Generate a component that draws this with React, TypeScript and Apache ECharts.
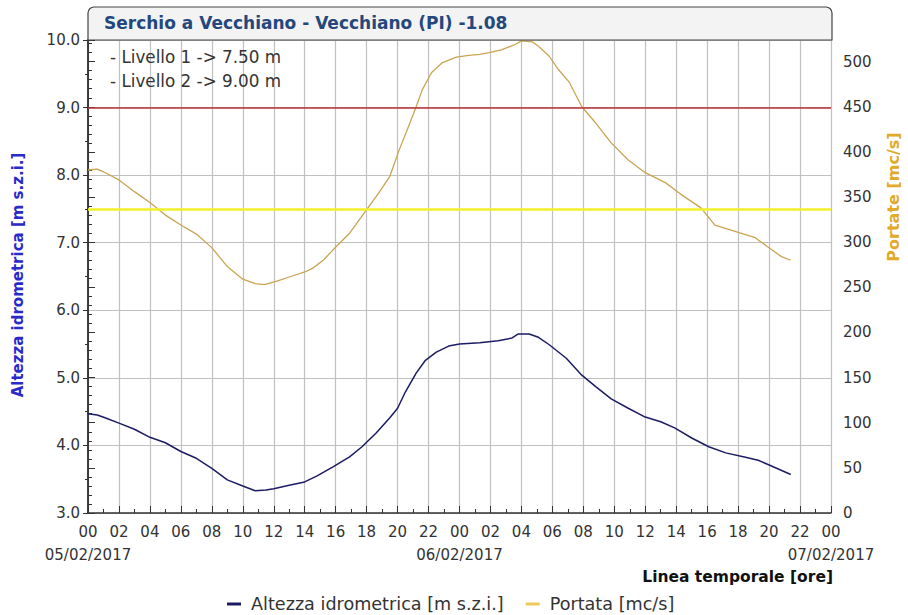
import React, { useEffect, useRef } from "react";
import * as echarts from "echarts";

// Hours since 00:00 of 05/02/2017
const hoursLevel = [0, 0.6, 1.1, 2, 3, 4, 5, 6, 7, 8, 9, 10, 10.8, 11.5, 12, 13, 14, 14.8, 15.8, 16.9, 17.7, 18.6, 19.5, 20, 20.5, 21.2, 21.8, 22.5, 23.3, 24, 25.3, 26.5, 27.4, 27.8, 28.5, 29.1, 29.8, 30.9, 31.9, 32.8, 33.8, 34.9, 36, 37, 37.9, 39, 40.1, 41.2, 42.4, 43.3, 44.3, 45.4];
const level = [4.47, 4.45, 4.41, 4.33, 4.24, 4.12, 4.04, 3.91, 3.81, 3.66, 3.49, 3.4, 3.33, 3.34, 3.36, 3.41, 3.46, 3.55, 3.68, 3.83, 3.98, 4.18, 4.41, 4.55, 4.79, 5.07, 5.26, 5.38, 5.47, 5.5, 5.52, 5.55, 5.59, 5.65, 5.65, 5.6, 5.49, 5.29, 5.04, 4.87, 4.69, 4.55, 4.42, 4.35, 4.26, 4.11, 3.98, 3.89, 3.83, 3.78, 3.68, 3.57];

const hoursFlow = [0, 0.6, 1, 2, 3, 4, 5, 6, 7, 8, 9, 10, 10.8, 11.4, 12.2, 13.1, 14, 14.5, 15.2, 15.8, 16.9, 18, 18.8, 19.5, 20.1, 20.7, 21.2, 21.6, 22.2, 22.9, 23.8, 24.6, 25.3, 25.9, 26.7, 27.6, 28, 28.7, 29.1, 29.8, 30.4, 31.1, 31.9, 32.8, 33.8, 34.9, 36, 37.3, 38.3, 39.6, 40.5, 41.8, 43.1, 43.9, 44.8, 45.4];
const flow = [380, 381, 378, 369, 356, 344, 330, 319, 309, 294, 273, 259, 254, 253, 257, 262, 267, 271, 280, 291, 310, 336, 355, 373, 402, 428, 450, 469, 488, 499, 505, 507, 508, 510, 513, 519, 523, 522, 517, 506, 491, 477, 450, 432, 410, 391, 377, 366, 353, 338, 319, 312, 305, 295, 284, 280];

const thresholdNames = ["Livello 1", "Livello 2"];
const thresholds = [7.5, 9.0];
const dateLabels: Record<number, string> = { 0: "05/02/2017", 24: "06/02/2017", 48: "07/02/2017" };

const FONT = "'DejaVu Sans', sans-serif";

export default function App() {
  const ref = useRef<HTMLDivElement>(null);
  useEffect(() => {
    if (!ref.current) return;
    const chart = echarts.init(ref.current, undefined, { renderer: "svg" });
    const option: any = {
      animation: false,
      backgroundColor: "#ffffff",
      textStyle: { fontFamily: FONT },
      grid: { left: 88, right: 77, top: 40, bottom: 102 },
      legend: {
        top: 590,
        left: 222,
        icon: "rect",
        itemWidth: 14,
        itemHeight: 3,
        itemGap: 22,
        textStyle: { fontSize: 17.6, color: "#333", fontFamily: FONT, padding: [0, 0, 0, 5] },
        data: ["Altezza idrometrica [m s.z.i.]", "Portata [mc/s]"],
      },
      xAxis: [
        {
          type: "value",
          min: 0,
          max: 48,
          interval: 2,
          axisLine: { show: true, lineStyle: { color: "#333", width: 1.5 } },
          axisTick: { show: true, inside: true, length: 7, lineStyle: { color: "#333" } },
          minorTick: { show: true, splitNumber: 2, length: 4, lineStyle: { color: "#333" } },
          splitLine: { show: true, lineStyle: { color: "#c0c0c0", width: 1.2 } },
          axisLabel: {
            color: "#333",
            fontSize: 15,
            fontFamily: FONT,
            margin: 11,
            hideOverlap: false,
            showMinLabel: true,
            showMaxLabel: true,
            formatter: (v: number) => String(v % 24).padStart(2, "0"),
          },
        },
        {
          type: "value",
          position: "bottom",
          min: 0,
          max: 48,
          interval: 24,
          axisLine: { show: false },
          axisTick: { show: false },
          splitLine: { show: false },
          axisLabel: {
            color: "#333",
            fontSize: 15,
            fontFamily: FONT,
            margin: 34,
            showMinLabel: true,
            showMaxLabel: true,
            formatter: (v: number) => dateLabels[v] || "",
          },
        },
      ],
      yAxis: [
        {
          type: "value",
          position: "left",
          min: 3,
          max: 10,
          interval: 1,
          axisLine: { show: true, lineStyle: { color: "#333", width: 1.5 } },
          axisTick: { show: true, length: 5, lineStyle: { color: "#333" } },
          minorTick: { show: true, splitNumber: 2, length: 3, lineStyle: { color: "#333" } },
          splitLine: { show: true, lineStyle: { color: "#c0c0c0", width: 1.2 } },
          axisLabel: { color: "#333", fontSize: 15, fontFamily: FONT, margin: 8, formatter: (v: number) => v.toFixed(1) },
        },
        {
          type: "value",
          position: "right",
          min: 0,
          max: 524,
          interval: 50,
          axisLine: { show: true, lineStyle: { color: "#333", width: 1.5 } },
          axisTick: { show: true, length: 7, lineStyle: { color: "#333" } },
          minorTick: { show: true, splitNumber: 5, length: 4, lineStyle: { color: "#333" } },
          splitLine: { show: false },
          axisLabel: { color: "#333", fontSize: 15, fontFamily: FONT, margin: 12, showMaxLabel: false },
        },
      ],
      series: [
        {
          name: "Altezza idrometrica [m s.z.i.]",
          type: "line",
          xAxisIndex: 0,
          yAxisIndex: 0,
          showSymbol: false,
          symbol: "none",
          data: hoursLevel.map((h, i) => [h, level[i]]),
          itemStyle: { color: "#1c1c64" },
          lineStyle: { color: "#1c1c64", width: 1.5 },
          z: 5,
          markLine: {
            silent: true,
            symbol: ["none", "none"],
            label: { show: false },
            data: [
              { name: thresholdNames[0], yAxis: thresholds[0], lineStyle: { color: "#f0f028", width: 2.5, type: "solid" } },
              { name: thresholdNames[1], yAxis: thresholds[1], lineStyle: { color: "#b8303a", width: 1.5, type: "solid" } },
            ],
          },
        },
        {
          name: "Portata [mc/s]",
          type: "line",
          xAxisIndex: 0,
          yAxisIndex: 1,
          showSymbol: false,
          symbol: "none",
          data: hoursFlow.map((h, i) => [h, flow[i]]),
          itemStyle: { color: "#ecc95a" },
          lineStyle: { color: "#c9a552", width: 1.3 },
          z: 4,
        },
      ],
      graphic: [
        {
          type: "rect",
          shape: { x: 88, y: 7, width: 744, height: 33, r: [6, 6, 0, 0] },
          style: { fill: "#f3f3f3", stroke: "#444", lineWidth: 1.2 },
          z: 10,
        },
        {
          type: "text",
          x: 104,
          y: 23,
          style: { text: "Serchio a Vecchiano - Vecchiano (PI) -1.08", font: `bold 17px ${FONT}`, fill: "#24487c", verticalAlign: "middle", align: "left" },
          z: 11,
        },
        {
          type: "text",
          x: 110,
          y: 57,
          style: { text: `- ${thresholdNames[0]} -> ${thresholds[0].toFixed(2)} m`, font: `16.8px ${FONT}`, fill: "#333", verticalAlign: "middle" },
          z: 11,
        },
        {
          type: "text",
          x: 110,
          y: 81,
          style: { text: `- ${thresholdNames[1]} -> ${thresholds[1].toFixed(2)} m`, font: `16.8px ${FONT}`, fill: "#333", verticalAlign: "middle" },
          z: 11,
        },
        {
          type: "text",
          x: 18,
          y: 275,
          rotation: Math.PI / 2,
          style: { text: "Altezza idrometrica [m s.z.i.]", font: `bold 15px ${FONT}`, fill: "#2a2ac8", align: "center", verticalAlign: "middle" },
          z: 11,
        },
        {
          type: "text",
          x: 893,
          y: 197,
          rotation: Math.PI / 2,
          style: { text: "Portate [mc/s]", font: `bold 16px ${FONT}`, fill: "#e2aa2a", align: "center", verticalAlign: "middle" },
          z: 11,
        },
        {
          type: "text",
          x: 833,
          y: 577,
          style: { text: "Linea temporale [ore]", font: `bold 15.5px ${FONT}`, fill: "#111", align: "right", verticalAlign: "middle" },
          z: 11,
        },
      ],
    };
    chart.setOption(option);
    return () => chart.dispose();
  }, []);
  return <div ref={ref} style={{ position: "fixed", left: 0, top: 0, width: 908, height: 615 }} />;
}
